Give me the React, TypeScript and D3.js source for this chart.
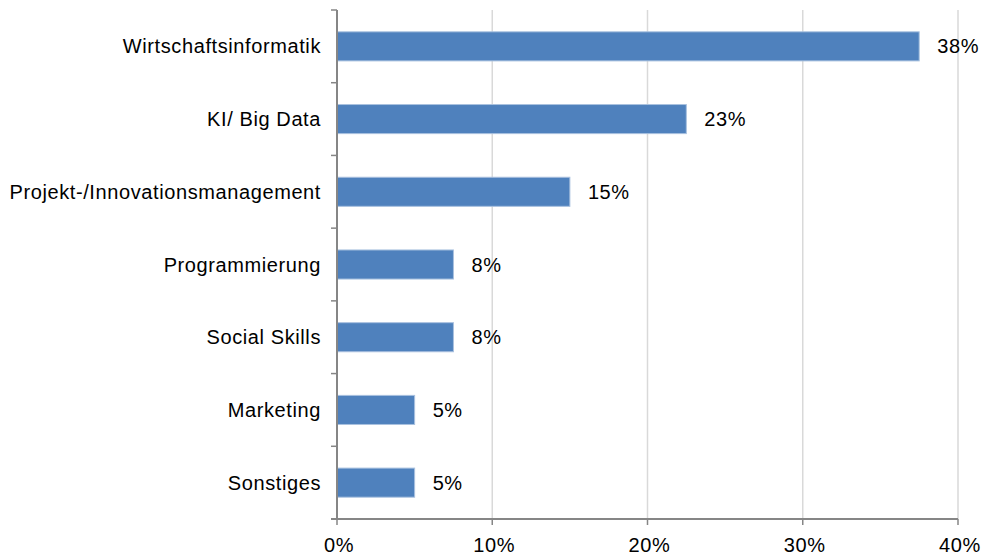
import { useEffect, useRef } from 'react';
import * as d3 from 'd3';

const categories = [
  'Wirtschaftsinformatik',
  'KI/ Big Data',
  'Projekt-/Innovationsmanagement',
  'Programmierung',
  'Social Skills',
  'Marketing',
  'Sonstiges',
];
const values = [37.5, 22.5, 15, 7.5, 7.5, 5, 5];
const xTicks = [0, 10, 20, 30, 40];

export default function App() {
  const svgRef = useRef<SVGSVGElement>(null);

  useEffect(() => {
    const width = 987;
    const height = 557;
    const margin = { top: 10, right: 29, bottom: 38, left: 337 };
    const font = 'Liberation Sans, Arial, sans-serif';

    const svg = d3.select(svgRef.current);
    svg.selectAll('*').remove();
    svg.attr('width', width).attr('height', height);

    const x = d3.scaleLinear().domain([0, 40]).range([margin.left, width - margin.right]);
    const y = d3
      .scaleBand<string>()
      .domain(categories)
      .range([margin.top, height - margin.bottom])
      .paddingInner(0.6)
      .paddingOuter(0.3);

    const plotTop = margin.top;
    const plotBottom = height - margin.bottom;

    // gridlines
    svg
      .append('g')
      .selectAll('line')
      .data(xTicks.filter((t) => t > 0))
      .join('line')
      .attr('x1', (d) => x(d))
      .attr('x2', (d) => x(d))
      .attr('y1', plotTop)
      .attr('y2', plotBottom)
      .attr('stroke', '#d9d9d9')
      .attr('stroke-width', 1.5);

    // bars
    svg
      .append('g')
      .selectAll('rect')
      .data(values)
      .join('rect')
      .attr('x', x(0))
      .attr('y', (_, i) => y(categories[i])!)
      .attr('width', (d) => x(d) - x(0))
      .attr('height', y.bandwidth())
      .attr('fill', '#4f81bd')
      .attr('stroke', '#a9c1df')
      .attr('stroke-width', 1);

    // value labels
    svg
      .append('g')
      .selectAll('text')
      .data(values)
      .join('text')
      .attr('x', (d) => x(d) + 18)
      .attr('y', (_, i) => y(categories[i])! + y.bandwidth() / 2)
      .attr('dy', '0.35em')
      .style('font-family', font)
      .style('font-size', '20px')
      .style('letter-spacing', '0.6px')
      .attr('fill', '#000')
      .text((d) => `${Math.round(d)}%`);

    // y axis
    const axisColor = '#868686';
    svg
      .append('line')
      .attr('x1', x(0))
      .attr('x2', x(0))
      .attr('y1', plotTop)
      .attr('y2', plotBottom)
      .attr('stroke', axisColor)
      .attr('stroke-width', 2);

    const boundaries = d3.range(categories.length + 1).map((i) => plotTop + i * (plotBottom - plotTop) / categories.length);
    svg
      .append('g')
      .selectAll('line')
      .data(boundaries)
      .join('line')
      .attr('x1', x(0) - 6)
      .attr('x2', x(0))
      .attr('y1', (d) => d)
      .attr('y2', (d) => d)
      .attr('stroke', axisColor)
      .attr('stroke-width', 1.5);

    svg
      .append('g')
      .selectAll('text')
      .data(categories)
      .join('text')
      .attr('x', x(0) - 16)
      .attr('y', (d) => y(d)! + y.bandwidth() / 2)
      .attr('dy', '0.35em')
      .attr('text-anchor', 'end')
      .style('font-family', font)
      .style('font-size', '20px')
      .style('letter-spacing', '0.6px')
      .attr('fill', '#000')
      .text((d) => d);

    // x axis
    svg
      .append('line')
      .attr('x1', x(0) - 6)
      .attr('x2', x(40))
      .attr('y1', plotBottom)
      .attr('y2', plotBottom)
      .attr('stroke', axisColor)
      .attr('stroke-width', 2);

    svg
      .append('g')
      .selectAll('line')
      .data(xTicks)
      .join('line')
      .attr('x1', (d) => x(d))
      .attr('x2', (d) => x(d))
      .attr('y1', plotBottom)
      .attr('y2', plotBottom + 6)
      .attr('stroke', axisColor)
      .attr('stroke-width', 1.5);

    svg
      .append('g')
      .selectAll('text')
      .data(xTicks)
      .join('text')
      .attr('x', (d) => x(d) + 2)
      .attr('y', plotBottom + 33)
      .attr('text-anchor', 'middle')
      .style('font-family', font)
      .style('font-size', '20px')
      .style('letter-spacing', '0.6px')
      .attr('fill', '#000')
      .text((d) => `${d}%`);
  }, []);

  return (
    <div style={{ position: 'absolute', left: 0, top: 0, background: '#fff' }}>
      <svg ref={svgRef} style={{ display: 'block' }}></svg>
    </div>
  );
}
